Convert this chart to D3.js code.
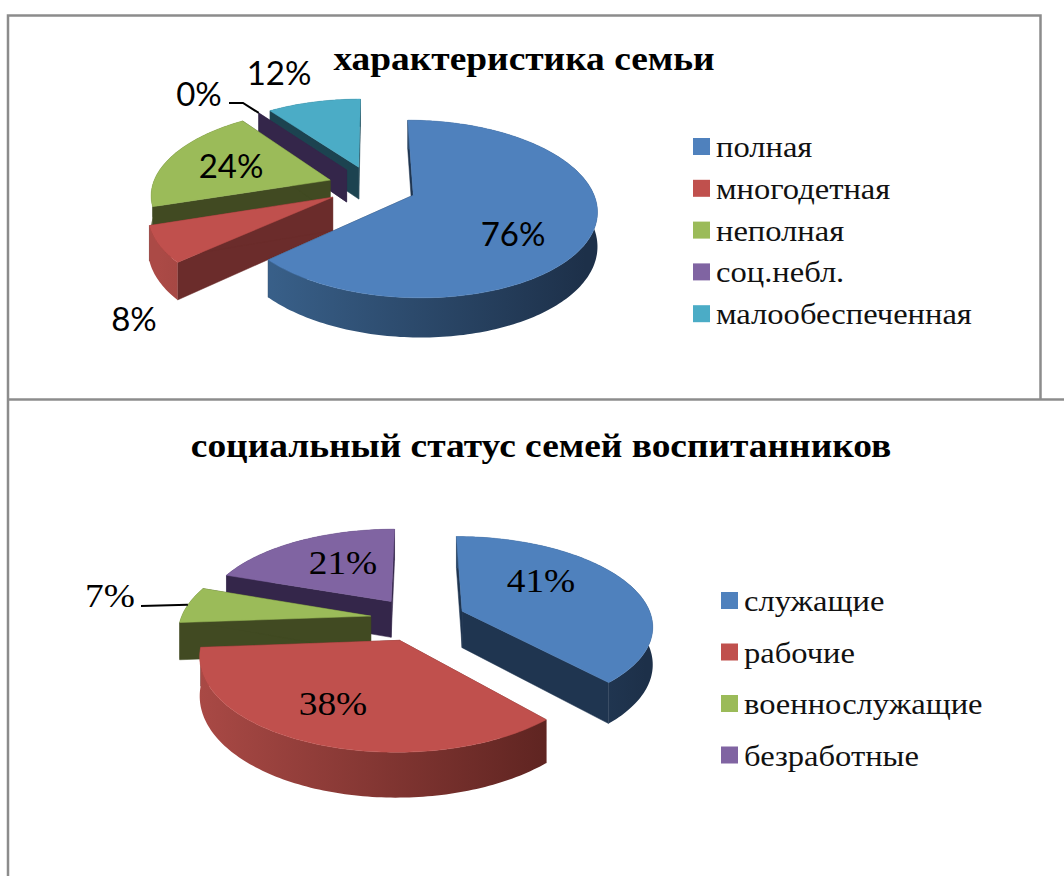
<!DOCTYPE html>
<html>
<head>
<meta charset="utf-8">
<script src="https://cdn.jsdelivr.net/npm/d3@7"></script>
<style>
  html, body { margin: 0; padding: 0; background: #fff; overflow: hidden; }
</style>
</head>
<body>
<div id="my_dataviz"></div>
<script>
// first chart
const familyTitle = "характеристика семьи";
const familyCats = ["полная", "многодетная", "неполная", "соц.небл.", "малообеспеченная"];
const familyVals = [76, 8, 24, 0, 12];
// second chart
const socialTitle = "социальный статус семей воспитанников";
const socialCats = ["служащие", "рабочие", "военнослужащие", "безработные"];
const socialVals = [41, 38, 7, 21];

const faceColors = ["#4f81bd", "#c0504d", "#9bbb59", "#8064a2", "#4bacc6"];
const wallColors = ["#1f3550", "#6b2c2b", "#414a22", "#34264a", "#1c4350"];
const rimLeft = ["#42709f", "#ab4a46", "#414a22", "#34264a", "#1c4350"];
const rimRight = ["#1d3049", "#4a1a17", "#414a22", "#34264a", "#1c4350"];

const width = 1064, height = 876;

const svg = d3.select("#my_dataviz")
  .append("svg")
    .attr("width", width)
    .attr("height", height)
    .style("display", "block");

const defs = svg.append("defs");
const line = d3.line();

function drawPie(o) {
  const slices = d3.pie().sort(null).value(d => d)(o.values);

  // plane coordinates of the pie -> screen, with a bit of perspective
  const project = (X, Y, z) => {
    const w = 1 + o.persp * Y;
    return [o.cx + o.rx * X / w, o.cy + (o.ry * -Y + z * o.depth) / w];
  };
  const onSlice = (d, r, a, z) => {
    const mid = (d.startAngle + d.endAngle) / 2;
    return project(
      o.explode * Math.sin(mid) + r * Math.sin(a),
      o.explode * Math.cos(mid) + r * Math.cos(a),
      z);
  };
  const rim = (d, z) => {
    const n = Math.max(1, Math.ceil((d.endAngle - d.startAngle) / 0.02));
    return d3.range(n + 1).map(i => onSlice(d, 1, d.startAngle + (d.endAngle - d.startAngle) * i / n, z));
  };

  const g = svg.append("g");

  o.drawOrder.forEach(i => {
    const d = slices[i];
    const gradId = o.id + "-rim-" + i;
    const grad = defs.append("linearGradient")
      .attr("id", gradId)
      .attr("gradientUnits", "userSpaceOnUse")
      .attr("x1", o.cx - o.rx * 1.2).attr("x2", o.cx + o.rx * 1.2)
      .attr("y1", 0).attr("y2", 0);
    grad.append("stop").attr("offset", "0%").attr("stop-color", rimLeft[i]);
    grad.append("stop").attr("offset", "100%").attr("stop-color", rimRight[i]);

    // the two flat cut walls
    [d.startAngle, d.endAngle].forEach(a => {
      g.append("path")
        .attr("d", line([
          onSlice(d, 0, a, 0), onSlice(d, 1, a, 0),
          onSlice(d, 1, a, 1), onSlice(d, 0, a, 1)
        ]) + "Z")
        .attr("fill", wallColors[i])
        .attr("stroke", wallColors[i])
        .attr("stroke-width", 0.5);
    });

    // outer curved wall
    if (d.endAngle > d.startAngle) {
      g.append("path")
        .attr("d", line(rim(d, 0).concat(rim(d, 1).reverse())) + "Z")
        .attr("fill", `url(#${gradId})`);

      // top face
      g.append("path")
        .attr("d", line([onSlice(d, 0, d.startAngle, 0)].concat(rim(d, 0))) + "Z")
        .attr("fill", faceColors[i])
        .attr("stroke", faceColors[i])
        .attr("stroke-width", 0.5);
    }
  });

  // leader lines
  o.leaders.forEach(l => {
    const d = slices[l.slice];
    const mid = (d.startAngle + d.endAngle) / 2;
    g.append("path")
      .attr("d", line(l.from.concat([onSlice(d, 1, mid, 0)])))
      .attr("fill", "none")
      .attr("stroke", "#000")
      .attr("stroke-width", 2);
  });

  // value labels
  g.selectAll("text.value")
    .data(slices)
    .enter()
    .append("text")
      .attr("class", "value")
      .attr("transform", (d, i) => `translate(${o.labelAt[i][0]},${o.labelAt[i][1]}) scale(${o.labelStretch},1)`)
      .attr("text-anchor", "middle")
      .attr("font-family", o.labelFont)
      .attr("font-size", o.labelSize)
      .attr("fill", "#000")
      .text(d => d.value + "%");

  // title, the pasted picture is a little wider than it is tall
  svg.append("text")
    .attr("transform", `translate(${o.titleX},${o.titleY}) scale(1.1,1)`)
    .attr("text-anchor", "middle")
    .attr("font-family", "'Liberation Serif', serif")
    .attr("font-weight", "bold")
    .attr("font-size", 34)
    .attr("fill", "#000")
    .text(o.title);

  // legend
  const rows = svg.append("g").selectAll("g")
    .data(o.cats)
    .enter()
    .append("g")
      .attr("transform", (d, i) => `translate(${o.legendX},${o.legendY + i * o.legendStep})`);
  rows.append("rect")
    .attr("width", 17).attr("height", 17)
    .attr("fill", (d, i) => faceColors[i]);
  rows.append("text")
    .attr("transform", "translate(23,19) scale(1.085,1)")
    .attr("font-family", "'Liberation Serif', serif")
    .attr("font-size", 30)
    .attr("fill", "#111")
    .text(d => d);
}

// frame lines between the two pasted charts
const frame = svg.append("g")
  .attr("fill", "none")
  .attr("stroke", "#8c8c8c")
  .attr("stroke-width", 2.5);
frame.append("path").attr("d", "M8,876V15.5H1040.5V399.5");
frame.append("path").attr("d", "M8,399.5H1064");

drawPie({
  id: "family",
  title: familyTitle, cats: familyCats, values: familyVals,
  cx: 372, cy: 186.5, rx: 178, ry: 84, depth: 33, persp: 0.153, explode: 0.25,
  drawOrder: [4, 3, 2, 1, 0],
  labelAt: [[513, 246], [134, 331], [231, 178], [199, 106], [279, 85]],
  labelFont: "Lato, sans-serif", labelSize: 33, labelStretch: 1,
  leaders: [{slice: 3, from: [[229, 103], [243, 103]]}],
  titleX: 524, titleY: 70,
  legendX: 693, legendY: 138, legendStep: 41.8
});

drawPie({
  id: "social",
  title: socialTitle, cats: socialCats, values: socialVals,
  cx: 418, cy: 619, rx: 190, ry: 88, depth: 37, persp: 0.15, explode: 0.252,
  drawOrder: [3, 2, 0, 1],
  labelAt: [[541, 592], [333, 715], [110, 607], [343, 574]],
  labelFont: "'Liberation Serif', serif", labelSize: 34, labelStretch: 1.1,
  leaders: [{slice: 2, from: [[141, 606]]}],
  titleX: 541, titleY: 457,
  legendX: 721, legendY: 592, legendStep: 51.5
});
</script>
</body>
</html>
